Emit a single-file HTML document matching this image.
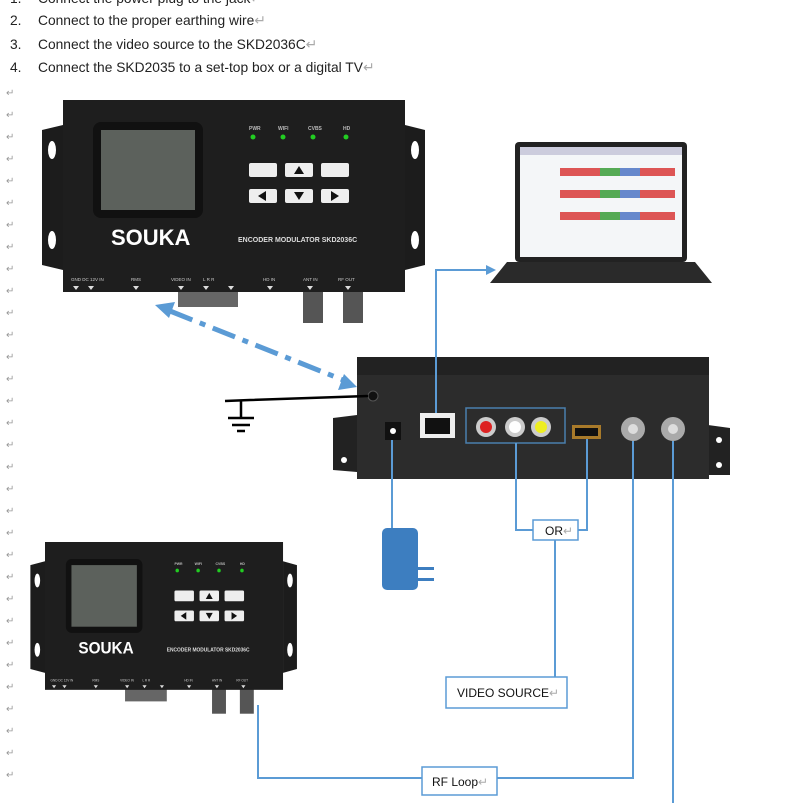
<!DOCTYPE html>
<html><head><meta charset="utf-8"><style>
body{margin:0;background:#fff;width:803px;height:803px;overflow:hidden;position:relative;font-family:"Liberation Sans",sans-serif}
.t{position:absolute;left:10px;font-size:13.8px;color:#222;white-space:nowrap}
.t span{display:inline-block;width:28px}
</style></head><body>
<div class="t" style="top:-9px"><span>1.</span>Connect the power plug to the jack<b style="color:#aaa;font-weight:normal">↵</b></div>
<div class="t" style="top:13px"><span>2.</span>Connect to the proper earthing wire<b style="color:#aaa;font-weight:normal">↵</b></div>
<div class="t" style="top:37px"><span>3.</span>Connect the video source to the SKD2036C<b style="color:#aaa;font-weight:normal">↵</b></div>
<div class="t" style="top:60px"><span>4.</span>Connect the SKD2035 to a set-top box or a digital TV<b style="color:#aaa;font-weight:normal">↵</b></div>
<svg width="803" height="803" style="position:absolute;left:0;top:0">
<defs>
<g id="dev">
 <path d="M-21,30 L0,25 L0,170 L-21,165 Z" fill="#1c1c1c"/>
 <path d="M342,25 L362,30 L362,165 L342,170 Z" fill="#1c1c1c"/>
 <ellipse cx="-11" cy="50" rx="4" ry="9" fill="#fff"/><ellipse cx="-11" cy="140" rx="4" ry="9" fill="#fff"/>
 <ellipse cx="352" cy="50" rx="4" ry="9" fill="#fff"/><ellipse cx="352" cy="140" rx="4" ry="9" fill="#fff"/>
 <rect x="115" y="185" width="60" height="22" fill="#666"/>
 <rect x="240" y="185" width="20" height="38" fill="#555"/><rect x="280" y="185" width="20" height="38" fill="#555"/>
 <rect x="0" y="0" width="342" height="192" fill="#1e1e1e"/>
 <rect x="30" y="22" width="110" height="96" rx="8" fill="#111"/>
 <rect x="38" y="30" width="94" height="80" fill="#5c615c"/>
 <g fill="#bbb" font-size="5" font-weight="bold"><text x="186" y="30">PWR</text><text x="215" y="30">WIFI</text><text x="245" y="30">CVBS</text><text x="280" y="30">HD</text></g>
 <g fill="#2c2"><circle cx="190" cy="37" r="2.5"/><circle cx="220" cy="37" r="2.5"/><circle cx="250" cy="37" r="2.5"/><circle cx="283" cy="37" r="2.5"/></g>
 <g fill="#eee"><rect x="186" y="63" width="28" height="14" rx="2"/><rect x="222" y="63" width="28" height="14" rx="2"/><rect x="258" y="63" width="28" height="14" rx="2"/>
 <rect x="186" y="89" width="28" height="14" rx="2"/><rect x="222" y="89" width="28" height="14" rx="2"/><rect x="258" y="89" width="28" height="14" rx="2"/></g>
 <g fill="#111"><path d="M231,74 L236,66 L241,74Z"/><path d="M203,91 L195,96 L203,101Z"/><path d="M231,92 L236,100 L241,92Z"/><path d="M268,91 L276,96 L268,101Z"/></g>
 <text x="48" y="145" fill="#fff" font-size="22" font-weight="bold">SOUKA</text>
 <text x="175" y="142" fill="#ddd" font-size="7" font-weight="bold">ENCODER MODULATOR SKD2036C</text>
 <g fill="#ccc" font-size="4.5"><text x="8" y="181">GND DC 12V IN</text><text x="68" y="181">RMS</text><text x="108" y="181">VIDEO IN</text><text x="140" y="181">L  R  R</text><text x="200" y="181">HD IN</text><text x="240" y="181">ANT IN</text><text x="275" y="181">RF OUT</text></g>
 <g fill="#ddd"><path d="M10,186h6l-3,4z"/><path d="M25,186h6l-3,4z"/><path d="M70,186h6l-3,4z"/><path d="M115,186h6l-3,4z"/><path d="M140,186h6l-3,4z"/><path d="M165,186h6l-3,4z"/><path d="M204,186h6l-3,4z"/><path d="M244,186h6l-3,4z"/><path d="M282,186h6l-3,4z"/></g>
</g>
</defs>
<use href="#dev" transform="translate(63,100)"/>
<use href="#dev" transform="translate(45,542) scale(0.696,0.77)"/>
<g fill="#999" font-size="10">
<text x="6" y="96">↵</text><text x="6" y="118">↵</text><text x="6" y="140">↵</text><text x="6" y="162">↵</text><text x="6" y="184">↵</text><text x="6" y="206">↵</text><text x="6" y="228">↵</text><text x="6" y="250">↵</text><text x="6" y="272">↵</text><text x="6" y="294">↵</text><text x="6" y="316">↵</text><text x="6" y="338">↵</text><text x="6" y="360">↵</text><text x="6" y="382">↵</text><text x="6" y="404">↵</text><text x="6" y="426">↵</text><text x="6" y="448">↵</text><text x="6" y="470">↵</text><text x="6" y="492">↵</text><text x="6" y="514">↵</text><text x="6" y="536">↵</text><text x="6" y="558">↵</text><text x="6" y="580">↵</text><text x="6" y="602">↵</text><text x="6" y="624">↵</text><text x="6" y="646">↵</text><text x="6" y="668">↵</text><text x="6" y="690">↵</text><text x="6" y="712">↵</text><text x="6" y="734">↵</text><text x="6" y="756">↵</text><text x="6" y="778">↵</text>
</g>
<rect x="515" y="142" width="172" height="120" rx="4" fill="#222"/>
<rect x="520" y="147" width="162" height="110" fill="#f4f6f8"/>
<rect x="520" y="147" width="162" height="8" fill="#ccd"/>
<g><rect x="560" y="168" width="115" height="8" fill="#d55"/><rect x="600" y="168" width="20" height="8" fill="#5a5"/><rect x="620" y="168" width="20" height="8" fill="#68c"/>
<rect x="560" y="190" width="115" height="8" fill="#d55"/><rect x="600" y="190" width="20" height="8" fill="#5a5"/><rect x="620" y="190" width="20" height="8" fill="#68c"/>
<rect x="560" y="212" width="115" height="8" fill="#d55"/><rect x="600" y="212" width="20" height="8" fill="#5a5"/><rect x="620" y="212" width="20" height="8" fill="#68c"/></g>
<path d="M507,262 L695,262 L712,283 L490,283 Z" fill="#2a2a2a"/>
<path d="M333,418 L357,415 L357,472 L333,470Z" fill="#222"/>
<path d="M708,425 L730,428 L730,475 L708,475Z" fill="#222"/>
<rect x="357" y="357" width="352" height="122" fill="#2c2c2c"/>
<rect x="357" y="357" width="352" height="18" fill="#222"/>
<circle cx="344" cy="460" r="3" fill="#fff"/><circle cx="719" cy="440" r="3" fill="#fff"/><circle cx="719" cy="465" r="3" fill="#fff"/>
<circle cx="373" cy="396" r="5" fill="#111" stroke="#555"/>
<rect x="385" y="422" width="16" height="18" fill="#111"/><circle cx="393" cy="431" r="3" fill="#fff"/>
<rect x="420" y="413" width="35" height="25" fill="#eee"/><rect x="425" y="418" width="25" height="16" fill="#111"/>
<rect x="466" y="408" width="99" height="35" fill="none" stroke="#4a7fad" stroke-width="1.5"/>
<circle cx="486" cy="427" r="10" fill="#ccc"/><circle cx="486" cy="427" r="6" fill="#d22"/>
<circle cx="515" cy="427" r="10" fill="#ccc"/><circle cx="515" cy="427" r="6" fill="#fff"/>
<circle cx="541" cy="427" r="10" fill="#ccc"/><circle cx="541" cy="427" r="6" fill="#ee2"/>
<rect x="572" y="425" width="29" height="14" fill="#a87a2a"/><rect x="575" y="428" width="23" height="8" fill="#111"/>
<circle cx="633" cy="429" r="12" fill="#aaa"/><circle cx="633" cy="429" r="5" fill="#ddd"/>
<circle cx="673" cy="429" r="12" fill="#aaa"/><circle cx="673" cy="429" r="5" fill="#ddd"/>
<g stroke="#5b9bd5" stroke-width="2" fill="none">
<path d="M436,413 V270 H488"/>
<path d="M392,440 V528"/>
<path d="M516,443 V530 H533"/>
<path d="M587,439 V530 H578"/>
<path d="M555,540 V677"/>
<path d="M633,441 V778 H497"/>
<path d="M422,778 H258 V705"/>
<path d="M673,441 V803"/>
</g>
<path d="M496,270 L486,265 L486,275Z" fill="#5b9bd5"/>
<g stroke="#5b9bd5" stroke-width="5" stroke-dasharray="24,8,6,8"><path d="M170,311 L343,380"/></g>
<path d="M155,305 L175,302 L169,318Z" fill="#5b9bd5"/>
<path d="M357,387 L338,390 L344,374Z" fill="#5b9bd5"/>
<path d="M225,401 L250,400 L368,396" stroke="#000" stroke-width="2.5" fill="none"/>
<path d="M241,401 V418 M228,418 H254 M232,425 H250 M237,431 H245" stroke="#000" stroke-width="2.5"/>
<rect x="382" y="528" width="36" height="62" rx="5" fill="#3d7ec0"/>
<rect x="418" y="567" width="16" height="3" fill="#3d7ec0"/><rect x="418" y="578" width="16" height="3" fill="#3d7ec0"/>
<rect x="533" y="520" width="45" height="20" fill="#fff" stroke="#5b9bd5" stroke-width="1.5"/>
<text x="545" y="535" font-size="12" fill="#111">OR<tspan fill="#aaa">↵</tspan></text>
<rect x="446" y="677" width="121" height="31" fill="#fff" stroke="#5b9bd5" stroke-width="1.5"/>
<text x="457" y="697" font-size="12" fill="#111">VIDEO SOURCE<tspan fill="#aaa">↵</tspan></text>
<rect x="422" y="767" width="75" height="28" fill="#fff" stroke="#5b9bd5" stroke-width="1.5"/>
<text x="432" y="786" font-size="12" fill="#111">RF Loop<tspan fill="#aaa">↵</tspan></text>
</svg>
</body></html>
